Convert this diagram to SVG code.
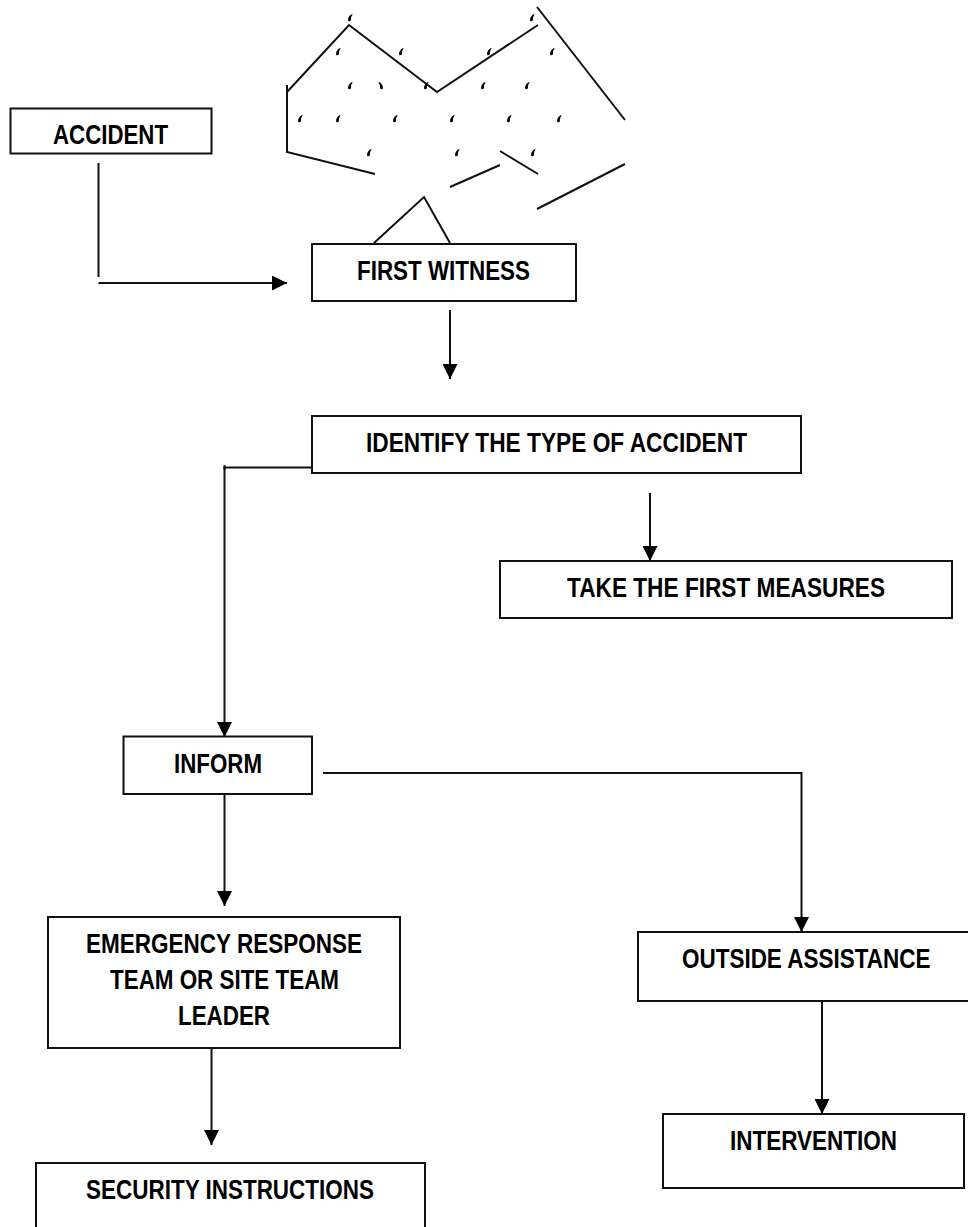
<svg xmlns="http://www.w3.org/2000/svg" width="968" height="1227" viewBox="0 0 968 1227">
  <style>
    .box { fill: #fff; stroke: #111; stroke-width: 2; }
    .line { fill: none; stroke: #111; stroke-width: 2; }
    .label { font-family: "Liberation Sans", Arial, sans-serif; font-weight: bold; font-size: 27px; fill: #000; }
  </style>
  <defs>
    <marker id="head" markerUnits="userSpaceOnUse" markerWidth="15" markerHeight="15" refX="15" refY="7.5" orient="auto">
      <path d="M0 0L15 7.5L0 15Z" fill="#000"/>
    </marker>
    <path id="tick" d="M2 -4C-0.8 -2.6 -2.4 0 -1.8 3C-0.4 3.6 1.2 2.8 1 1.6C0.8 0.2 1.2 -1.6 2.6 -3.4Z" fill="#000"/>
  </defs>
  <rect width="968" height="1227" fill="#fff"/>

  <!-- Fire outline above the witness box -->
  <g id="flames">
    <path class="line" d="M287 92L349 25L437 92L538 25"/>
    <path class="line" d="M537 7L625 120"/>
    <path class="line" d="M287 85V152L375 174"/>
    <path class="line" d="M450 187L500 165"/>
    <path class="line" d="M500 151L538 174"/>
    <path class="line" d="M537 209L625 164"/>
    <path class="line" d="M374 243L424 197L450 243"/>
    <g>
      <use href="#tick" x="350" y="18"/><use href="#tick" x="532" y="18"/>
      <use href="#tick" x="338" y="52"/><use href="#tick" x="401" y="52"/>
      <use href="#tick" x="489" y="52"/><use href="#tick" x="552" y="52"/>
      <use href="#tick" x="350" y="86"/>
      <use href="#tick" transform="translate(381 86) scale(-1 1)"/>
      <use href="#tick" x="426" y="86"/><use href="#tick" x="483" y="86"/>
      <use href="#tick" x="527" y="86"/>
      <use href="#tick" x="300" y="119"/><use href="#tick" x="338" y="119"/>
      <use href="#tick" x="395" y="119"/><use href="#tick" x="452" y="119"/>
      <use href="#tick" x="509" y="119"/><use href="#tick" x="559" y="119"/>
      <use href="#tick" x="369" y="153"/><use href="#tick" x="457" y="153"/>
      <use href="#tick" x="533" y="153"/>
    </g>
  </g>

  <!-- Connectors -->
  <g id="connectors">
    <path class="line" d="M98.500 163V277"/>
    <path class="line" d="M98.500 283H287" marker-end="url(#head)"/>
    <path class="line" d="M450 310V379" marker-end="url(#head)"/>
    <path class="line" d="M312 467.500H224.500V737" marker-end="url(#head)"/>
    <path class="line" d="M224.500 465V470"/>
    <path class="line" d="M650 493V561" marker-end="url(#head)"/>
    <path class="line" d="M224.500 794V906" marker-end="url(#head)"/>
    <path class="line" d="M323 773H801.500V932" marker-end="url(#head)"/>
    <path class="line" d="M211.500 1048V1145" marker-end="url(#head)"/>
    <path class="line" d="M822 1001V1114" marker-end="url(#head)"/>
  </g>

  <g id="accident">
    <rect class="box" x="10.500" y="108.500" width="201" height="45"/>
    <text class="label" x="53" y="144" textLength="115" lengthAdjust="spacingAndGlyphs">ACCIDENT</text>
  </g>
  <g id="first-witness">
    <rect class="box" x="312" y="244" width="264" height="57"/>
    <text class="label" x="357" y="280" textLength="173" lengthAdjust="spacingAndGlyphs">FIRST WITNESS</text>
  </g>
  <g id="identify">
    <rect class="box" x="312" y="416" width="489" height="57"/>
    <text class="label" x="366" y="452" textLength="381" lengthAdjust="spacingAndGlyphs">IDENTIFY THE TYPE OF ACCIDENT</text>
  </g>
  <g id="first-measures">
    <rect class="box" x="500" y="561" width="452" height="57"/>
    <text class="label" x="567" y="597" textLength="318" lengthAdjust="spacingAndGlyphs">TAKE THE FIRST MEASURES</text>
  </g>
  <g id="inform">
    <rect class="box" x="123.500" y="736.500" width="188.500" height="57.500"/>
    <text class="label" x="174" y="773" textLength="88" lengthAdjust="spacingAndGlyphs">INFORM</text>
  </g>
  <g id="response-team">
    <rect class="box" x="48" y="917" width="352" height="131"/>
    <text class="label" x="86" y="953" textLength="276" lengthAdjust="spacingAndGlyphs">EMERGENCY RESPONSE</text>
    <text class="label" x="110" y="989" textLength="229" lengthAdjust="spacingAndGlyphs">TEAM OR SITE TEAM</text>
    <text class="label" x="178" y="1025" textLength="92" lengthAdjust="spacingAndGlyphs">LEADER</text>
  </g>
  <g id="outside-assistance">
    <rect class="box" x="638" y="932" width="332" height="69"/>
    <text class="label" transform="translate(682 968) scale(.8325 1)">OUTSIDE ASSISTANCE</text>
  </g>
  <g id="intervention">
    <rect class="box" x="663" y="1114" width="301" height="74"/>
    <text class="label" x="730" y="1150" textLength="167" lengthAdjust="spacingAndGlyphs">INTERVENTION</text>
  </g>
  <g id="security">
    <rect class="box" x="36" y="1163" width="389" height="70"/>
    <text class="label" x="86" y="1199" textLength="288" lengthAdjust="spacingAndGlyphs">SECURITY INSTRUCTIONS</text>
  </g>
</svg>
